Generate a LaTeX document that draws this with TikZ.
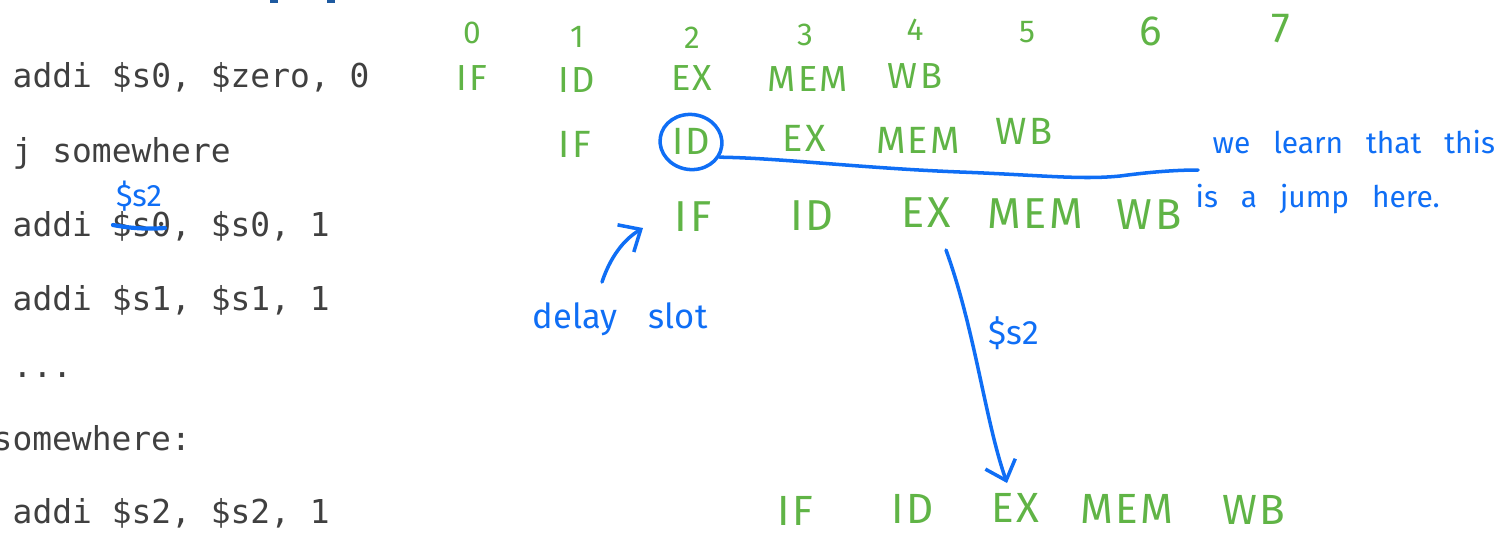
\documentclass[tikz,border=0pt]{standalone}
\usepackage{fontspec}
\usetikzlibrary{arrows.meta,shapes.geometric}
\newfontfamily\codefont{DejaVu Sans Mono}
\newfontfamily\hand[LetterSpace=6]{Fira Sans}
\newfontfamily\notefont{Fira Sans}
\newcommand\widesp{\spaceskip 6.5pt\relax}
\newcommand\widerSp{\spaceskip 9pt\relax}
\definecolor{codegray}{RGB}{64,64,64}
\definecolor{hgreen}{RGB}{96,180,70}
\definecolor{hblue}{RGB}{15,110,245}
\definecolor{dkblue}{RGB}{30,90,160}
\tikzset{
  codeline/.style={anchor=base west, inner sep=0pt, text=codegray,
    font=\codefont\fontsize{9.36}{11}\selectfont},
  stage/.style={inner sep=0pt, text=hgreen, font=\hand\fontsize{#1}{#1}\selectfont},
  stage/.default=11,
  cyc/.style={inner sep=0pt, text=hgreen, font=\notefont\fontsize{#1}{#1}\selectfont},
  cyc/.default=9,
  bluetext/.style={inner sep=0pt, text=hblue, font=\notefont\fontsize{#1}{#1}\selectfont\widesp},
  bluetext/.default=8.5,
  bluestroke/.style={draw=hblue, line width=1pt, line cap=round, line join=round},
  bluearrow/.style={bluestroke, -{Straight Barb[length=5pt,width=9pt,line width=1pt]}}
}
\begin{document}
\begin{tikzpicture}[x=0.01cm,y=-0.01cm]
\useasboundingbox (0,0) rectangle (1503,532);
\clip (0,0) rectangle (1503,532);
% cut-off heading fragments
\fill[dkblue] (270,0) rectangle (278,3);
\fill[dkblue] (327,0) rectangle (335,3);
% code
\node[codeline] (c1) at (12,87) {addi \$s0, \$zero, 0};
\node[codeline] (c2) at (12,162) {j somewhere};
\node[codeline] (c3) at (12,236) {addi \$s0, \$s0, 1};
\node[codeline] (c4) at (12,310) {addi \$s1, \$s1, 1};
\node[codeline] (c5) at (12,377) {...};
\node[codeline] (c6) at (-8,450) {somewhere:};
\node[codeline] (c7) at (12,523) {addi \$s2, \$s2, 1};
% correction on line 3
\draw[bluestroke, line width=1.2pt] (113,225) .. controls (135,229) and (150,229) .. (165,228);
\node[bluetext=8.8] (s2a) at (139,196) {\$s2};
% cycle numbers
\node[cyc] (n0) at (472,33) {0};
\node[cyc] (n1) at (577,37) {1};
\node[cyc] (n2) at (692,38) {2};
\node[cyc] (n3) at (805,35) {3};
\node[cyc] (n4) at (915,30) {4};
\node[cyc] (n5) at (1027,32) {5};
\node[cyc=12] (n6) at (1151,31) {6};
\node[cyc=12] (n7) at (1281,29) {7};
% row 1
\node[stage=10.3] (a1) at (472,78) {IF};
\node[stage=10.3] (a2) at (577,80) {ID};
\node[stage=10.3] (a3) at (692,78) {EX};
\node[stage=10.3] (a4) at (808,79) {MEM};
\node[stage=10.3] (a5) at (915,76) {WB};
% row 2
\node[stage=10.8] (b1) at (575,144) {IF};
\node[stage=10.8] (b2) at (691,141) {ID};
\node[stage=10.8] (b3) at (804,138) {EX};
\node[stage=10.8] (b4) at (918,140) {MEM};
\node[stage=10.8] (b5) at (1024,131) {WB};
% row 3
\node[stage=12.3] (d1) at (693,217) {IF};
\node[stage=12.3] (d2) at (812,216) {ID};
\node[stage=12.3] (d3) at (926,213) {EX};
\node[stage=12.3] (d4) at (1035,214) {MEM};
\node[stage=12.3] (d5) at (1149,215) {WB};
% row 4
\node[stage=12] (e1) at (795,511) {IF};
\node[stage=12] (e2) at (913,509) {ID};
\node[stage=12] (e3) at (1015,508) {EX};
\node[stage=12] (e4) at (1127,509) {MEM};
\node[stage=12] (e5) at (1254,510) {WB};
% circle on ID and line to note
\node[ellipse, draw=hblue, line width=1pt, minimum width=0.62cm, minimum height=0.55cm, inner sep=0pt, rotate=-8] (circ) at (691,142) {};
\coordinate (noteend) at (1198,170);
\draw[bluestroke] (circ.-20) .. controls (780,158) and (860,168) .. (960,172)
  .. controls (1040,175) and (1080,180) .. (1120,176)
  .. controls (1150,172) and (1175,170) .. (noteend);
% note
\node[bluetext, anchor=base west] (note1) at (1212,153) {we learn that this};
\node[bluetext, anchor=base west] (note2) at (1195,207) {is a jump here.};
% delay slot
\node[inner sep=0pt, text=hblue, anchor=base west, font=\notefont\fontsize{9.8}{9.8}\selectfont\widerSp] (delay) at (532,328) {delay slot};
\coordinate (dtail) at (602,282);
\coordinate (dhead) at (643,228);
\draw[bluearrow] (dtail) .. controls (610,258) and (623,240) .. (dhead);
% $s2 forwarding arrow
\coordinate (ftail) at (946,250);
\coordinate (fhead) at (1007,483);
\draw[bluearrow] (ftail) .. controls (975,330) and (985,420) .. (fhead);
\node[bluetext=9.6] (s2b) at (1014,333) {\$s2};
\end{tikzpicture}
\end{document}
